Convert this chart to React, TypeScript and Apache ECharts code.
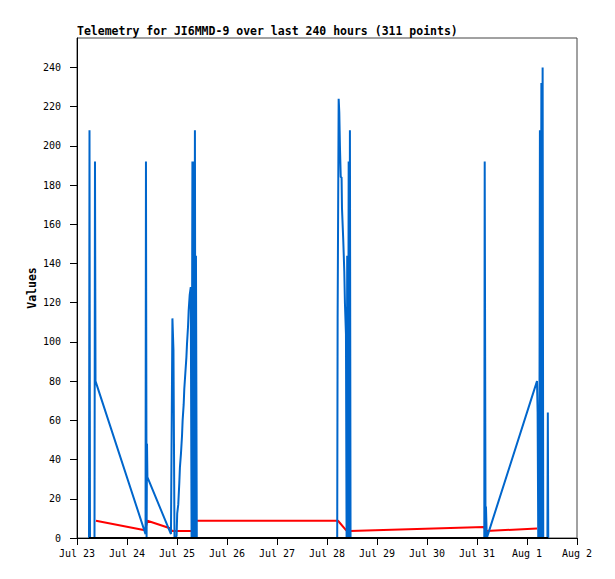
import React, { useEffect, useRef } from "react";
import * as echarts from "echarts";

const YEAR = 2024;
const TITLE = "Telemetry for JI6MMD-9 over last 240 hours (311 points)";
const Y_NAME = "Values";
const MONTHS = ["Jan", "Feb", "Mar", "Apr", "May", "Jun", "Jul", "Aug", "Sep", "Oct", "Nov", "Dec"];
const X_START = "07-23 00:00";
const X_END = "08-02 00:00";
const Y_MAX = 255;
const Y_TICKS = [0, 20, 40, 60, 80, 100, 120, 140, 160, 180, 200, 220, 240];

const BLUE_TIMES = [
  "07-23 05:46", "07-23 06:00", "07-23 06:14", "07-23 08:24", "07-23 08:38", "07-23 08:53",
  "07-24 08:54", "07-24 09:06", "07-24 09:24", "07-24 09:36", "07-24 09:48",
  "07-24 21:06", "07-24 21:48", "07-24 22:18", "07-24 22:48", "07-24 23:48",
  "07-25 00:06", "07-25 00:36", "07-25 01:06", "07-25 01:24", "07-25 01:54", "07-25 02:24",
  "07-25 02:42", "07-25 03:12", "07-25 03:30", "07-25 04:00", "07-25 04:30", "07-25 04:48",
  "07-25 05:18", "07-25 05:36", "07-25 06:06", "07-25 06:36", "07-25 07:00", "07-25 07:24",
  "07-25 07:42", "07-25 08:00", "07-25 08:18", "07-25 08:36", "07-25 08:54", "07-25 09:06",
  "07-25 09:30",
  "07-28 04:54", "07-28 05:06", "07-28 05:24", "07-28 05:36", "07-28 05:54", "07-28 06:12",
  "07-28 06:36", "07-28 07:00", "07-28 07:12", "07-28 07:30", "07-28 07:48", "07-28 08:18",
  "07-28 08:36", "07-28 09:06", "07-28 09:24", "07-28 09:42", "07-28 10:06", "07-28 10:24",
  "07-28 10:42", "07-28 11:00", "07-28 11:18",
  "07-31 03:30", "07-31 03:42", "07-31 04:06", "07-31 04:18", "07-31 04:42", "07-31 05:18",
  "08-01 04:48", "08-01 05:06", "08-01 05:24", "08-01 05:42", "08-01 05:54", "08-01 06:12",
  "08-01 06:30", "08-01 06:54", "08-01 07:12", "08-01 07:30", "08-01 07:48", "08-01 09:48",
  "08-01 10:00", "08-01 10:12",
];
const BLUE_VALUES = [
  0, 208, 0, 0, 192, 80,
  2, 192, 0, 48, 31,
  2, 112, 96, 0, 1,
  12.6, 17, 28, 36, 43, 52,
  60, 68, 76, 84, 92, 99,
  108, 116, 124, 128, 0, 192,
  0, 192, 0, 208, 0, 144,
  0,
  0, 112, 112, 224, 217, 200,
  184, 184, 168, 168, 152, 136,
  120, 104, 0, 144, 0, 192,
  0, 208, 0,
  0, 192, 0, 16, 0, 2,
  80, 64, 0, 32, 0, 208,
  0, 232, 0, 240, 0, 0,
  64, 0,
];

const RED_TIMES = [
  "07-23 09:06", "07-24 08:38", "07-24 09:48", "07-24 20:38", "07-24 21:36", "07-25 07:12",
  "07-25 08:36", "07-28 05:17", "07-28 09:07", "07-28 11:00", "07-31 03:22", "07-31 04:19",
  "08-01 04:48",
];
const RED_VALUES = [8.8, 4.0, 8.8, 5.0, 3.6, 3.6, 8.8, 8.8, 4.0, 3.6, 5.6, 3.6, 4.8];

const ZERO_TIMES = ["07-23 05:46", "08-01 10:12"];
const ZERO_VALUES = [0, 0];

function toTs(s: string): number {
  const [md, hm] = s.split(" ");
  const [mo, d] = md.split("-").map(Number);
  const [h, mi] = hm.split(":").map(Number);
  return Date.UTC(YEAR, mo - 1, d, h, mi);
}

function pairs(times: string[], values: number[]) {
  return times.map((t, i) => [toTs(t), values[i]]);
}

const MONO = "'DejaVu Sans Mono', 'Liberation Mono', monospace";

export default function App() {
  const ref = useRef<HTMLDivElement>(null);
  useEffect(() => {
    if (!ref.current) return;
    const chart = echarts.init(ref.current, null, { renderer: "svg" });
    chart.setOption({
      animation: false,
      backgroundColor: "#ffffff",
      title: {
        text: TITLE,
        left: 77,
        top: 24,
        padding: 0,
        textStyle: {
          fontFamily: MONO,
          fontWeight: "bold",
          fontSize: 11.5,
          lineHeight: 14,
          color: "#000",
        },
      },
      graphic: [
        {
          type: "text",
          x: 32,
          y: 288,
          rotation: Math.PI / 2,
          style: {
            text: Y_NAME,
            fontFamily: MONO,
            fontWeight: "bold",
            fontSize: 11.5,
            fill: "#000",
            align: "center",
            verticalAlign: "middle",
          },
        },
      ],
      grid: {
        left: 77,
        top: 38,
        width: 500,
        height: 500,
        show: true,
        borderColor: "#444444",
        borderWidth: 1,
        backgroundColor: "transparent",
        containLabel: false,
      },
      xAxis: {
        type: "value",
        min: toTs(X_START),
        max: toTs(X_END),
        interval: 86400000,
        axisLine: { show: true, onZero: false, lineStyle: { color: "#000", width: 1 } },
        axisTick: { show: true, length: 7, lineStyle: { color: "#000", width: 1 } },
        axisLabel: {
          margin: 10,
          fontFamily: MONO,
          fontSize: 10,
          color: "#000",
          formatter: (v: number) => {
            const d = new Date(v);
            return MONTHS[d.getUTCMonth()] + " " + d.getUTCDate();
          },
        },
        splitLine: { show: false },
      },
      yAxis: {
        type: "value",
        min: 0,
        max: Y_MAX,
        axisLine: { show: true, lineStyle: { color: "#000", width: 1 } },
        axisTick: { show: true, length: 7, customValues: Y_TICKS, lineStyle: { color: "#000", width: 1 } },
        axisLabel: {
          customValues: Y_TICKS,
          margin: 16,
          fontFamily: MONO,
          fontSize: 10,
          color: "#000",
        },
        splitLine: { show: false },
      },
      series: [
        {
          type: "line",
          data: pairs(RED_TIMES, RED_VALUES),
          showSymbol: false,
          symbol: "none",
          lineStyle: { color: "#ff0000", width: 2 },
          itemStyle: { color: "#ff0000" },
          z: 2,
        },
        {
          type: "line",
          data: pairs(BLUE_TIMES, BLUE_VALUES),
          showSymbol: false,
          symbol: "none",
          lineStyle: { color: "#0066cc", width: 2 },
          itemStyle: { color: "#0066cc" },
          z: 3,
        },
        {
          type: "line",
          data: pairs(ZERO_TIMES, ZERO_VALUES),
          showSymbol: false,
          symbol: "none",
          lineStyle: { color: "#000000", width: 2 },
          itemStyle: { color: "#000000" },
          z: 4,
        },
      ],
    });
    return () => chart.dispose();
  }, []);
  return (
    <div
      ref={ref}
      style={{ position: "fixed", left: 0, top: 0, width: 615, height: 579, background: "#fff" }}
    />
  );
}
